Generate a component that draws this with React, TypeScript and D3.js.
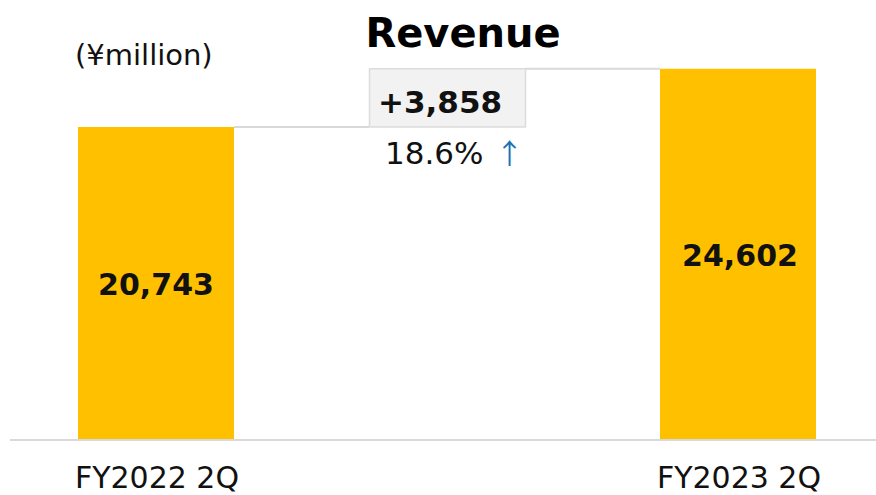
import * as d3 from "d3";

const categories = ["FY2022 2Q", "FY2023 2Q"];
const values = [20743, 24602];
const diffLabel = "+3,858";
const pctLabel = "18.6%";
const title = "Revenue";
const unitLabel = "(¥million)";

const W = 876;
const H = 495;
const FONT = "'DejaVu Sans', Verdana, sans-serif";

export default function App() {
  const baseline = 440;
  const barWidth = 156;

  // three slots: first bar, change box, second bar
  const xScale = d3
    .scalePoint<string>()
    .domain([categories[0], "diff", categories[1]])
    .range([156, 738]);

  const yScale = d3.scaleLinear().domain([0, 25000]).range([baseline, baseline - 25000 * 0.01509]);

  const fmt = d3.format(",");
  const [v0, v1] = values;
  const x0 = xScale(categories[0])!;
  const xd = xScale("diff")!;
  const x1 = xScale(categories[1])!;

  return (
    <div style={{ position: "absolute", left: 0, top: 0 }}>
      <svg width={W} height={H} style={{ display: "block", fontFamily: FONT }}>
        <rect width={W} height={H} fill="#ffffff" />

        {/* connectors */}
        <line x1={x0 + barWidth / 2} x2={xd - barWidth / 2} y1={yScale(v0)} y2={yScale(v0)} stroke="#d9d9d9" strokeWidth={2} />
        <line x1={xd + barWidth / 2} x2={x1 - barWidth / 2} y1={yScale(v1)} y2={yScale(v1)} stroke="#d9d9d9" strokeWidth={2} />

        {/* change box */}
        <rect
          x={xd - barWidth / 2 + 0.5}
          y={yScale(v1)}
          width={barWidth}
          height={yScale(v0) - yScale(v1)}
          fill="#f2f2f2"
          stroke="#dcdcdc"
          strokeWidth={1.5}
        />
        <text x={xd - 69} y={yScale(v1) + 44} fontSize={31} fontWeight="bold" fill="#111">
          {diffLabel}
        </text>
        <text x={xd - 62} y={yScale(v0) + 37} fontSize={31} fill="#111">
          {pctLabel}
          <tspan dx={12} fill="#1a73b8" fontFamily="'Noto Sans CJK JP', sans-serif" fontSize={28}>↑</tspan>
        </text>

        {/* bars */}
        {values.map((v, i) => {
          const cx = xScale(categories[i])!;
          return (
            <g key={categories[i]}>
              <rect x={cx - barWidth / 2} y={yScale(v)} width={barWidth} height={baseline - yScale(v)} fill="#ffc000" />
              <text
                x={cx + (i === 1 ? 2 : 0)}
                y={(yScale(v) + baseline) / 2 + 12}
                fontSize={30}
                fontWeight="bold"
                textAnchor="middle"
                fill="#111"
              >
                {fmt(v)}
              </text>
              <text x={cx + 1} y={488} fontSize={30} textAnchor="middle" fill="#111">
                {categories[i]}
              </text>
            </g>
          );
        })}

        {/* baseline */}
        <line x1={10} x2={W} y1={baseline} y2={baseline} stroke="#d9d9d9" strokeWidth={2} />

        <text x={463} y={47} fontSize={40} fontWeight="bold" textAnchor="middle" fill="#000">
          {title}
        </text>
        <text x={75} y={65} fontSize={29} fill="#111">
          {unitLabel}
        </text>
      </svg>
    </div>
  );
}
